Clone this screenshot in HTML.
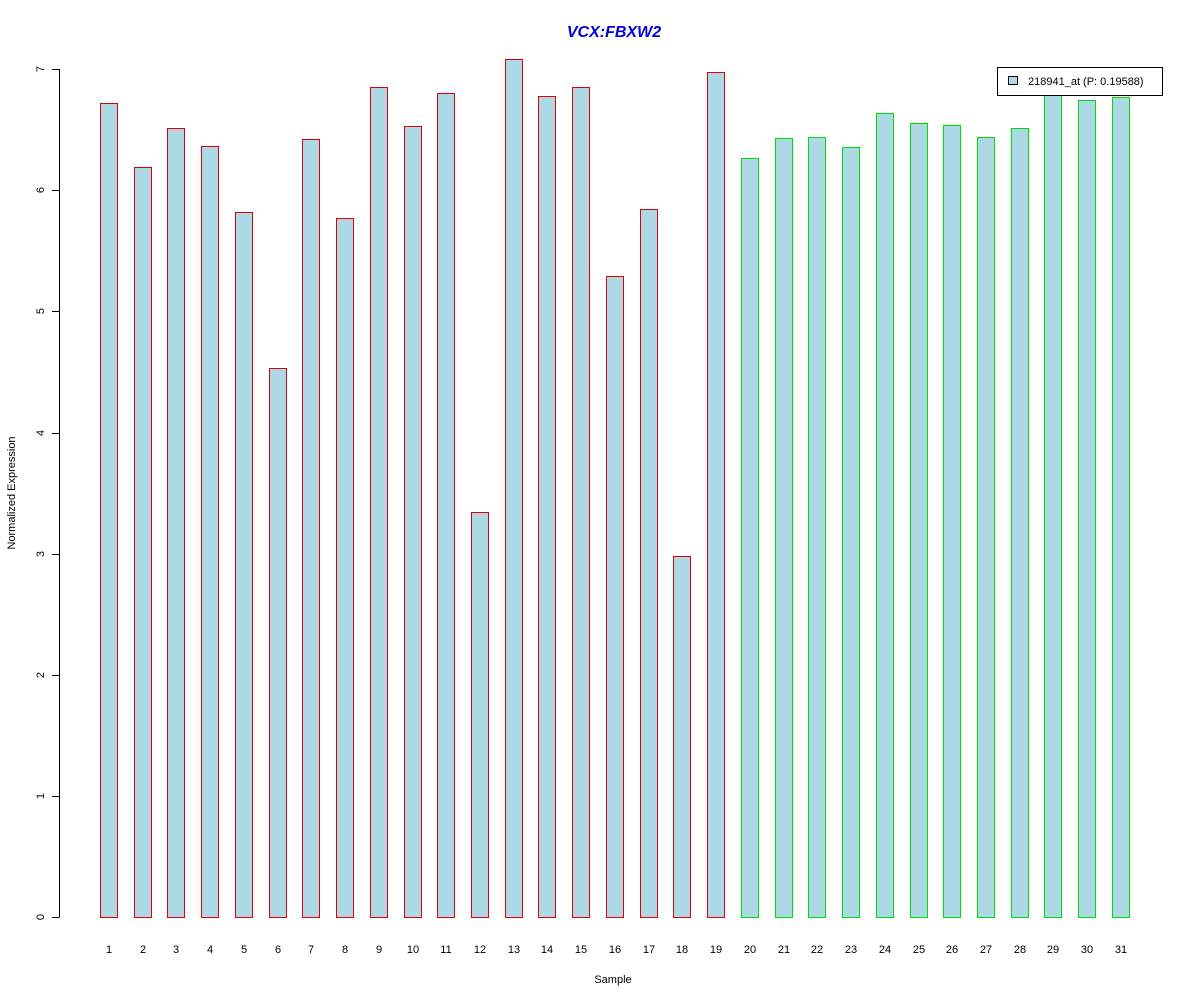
<!DOCTYPE html>
<html><head><meta charset="utf-8"><style>html,body{margin:0;padding:0;background:#fff}svg{display:block}</style></head>
<body>
<svg width="1200" height="1000" xmlns="http://www.w3.org/2000/svg" font-family="Liberation Sans, sans-serif">
<rect width="1200" height="1000" fill="#fff"/>
<text x="614" y="37" text-anchor="middle" font-size="16" font-weight="bold" font-style="italic" fill="#0000dd">VCX:FBXW2</text>
<g fill="#add8e6" stroke="#dd0000" stroke-width="1">
<rect x="100.5" y="103.5" width="17" height="814"/>
<rect x="134.5" y="167.5" width="17" height="750"/>
<rect x="167.5" y="128.5" width="17" height="789"/>
<rect x="201.5" y="146.5" width="17" height="771"/>
<rect x="235.5" y="212.5" width="17" height="705"/>
<rect x="269.5" y="368.5" width="17" height="549"/>
<rect x="302.5" y="139.5" width="17" height="778"/>
<rect x="336.5" y="218.5" width="17" height="699"/>
<rect x="370.5" y="87.5" width="17" height="830"/>
<rect x="404.5" y="126.5" width="17" height="791"/>
<rect x="437.5" y="93.5" width="17" height="824"/>
<rect x="471.5" y="512.5" width="17" height="405"/>
<rect x="505.5" y="59.5" width="17" height="858"/>
<rect x="538.5" y="96.5" width="17" height="821"/>
<rect x="572.5" y="87.5" width="17" height="830"/>
<rect x="606.5" y="276.5" width="17" height="641"/>
<rect x="640.5" y="209.5" width="17" height="708"/>
<rect x="673.5" y="556.5" width="17" height="361"/>
<rect x="707.5" y="72.5" width="17" height="845"/>
</g>
<g fill="#add8e6" stroke="#00dd00" stroke-width="1">
<rect x="741.5" y="158.5" width="17" height="759"/>
<rect x="775.5" y="138.5" width="17" height="779"/>
<rect x="808.5" y="137.5" width="17" height="780"/>
<rect x="842.5" y="147.5" width="17" height="770"/>
<rect x="876.5" y="113.5" width="17" height="804"/>
<rect x="910.5" y="123.5" width="17" height="794"/>
<rect x="943.5" y="125.5" width="17" height="792"/>
<rect x="977.5" y="137.5" width="17" height="780"/>
<rect x="1011.5" y="128.5" width="17" height="789"/>
<rect x="1044.5" y="92.5" width="17" height="825"/>
<rect x="1078.5" y="100.5" width="17" height="817"/>
<rect x="1112.5" y="97.5" width="17" height="820"/>
</g>
<g stroke="#000" stroke-width="1">
<line x1="59.5" y1="69" x2="59.5" y2="917"/>
<line x1="52" y1="917.5" x2="59.5" y2="917.5"/>
<line x1="52" y1="796.5" x2="59.5" y2="796.5"/>
<line x1="52" y1="675.5" x2="59.5" y2="675.5"/>
<line x1="52" y1="554.5" x2="59.5" y2="554.5"/>
<line x1="52" y1="433.5" x2="59.5" y2="433.5"/>
<line x1="52" y1="311.5" x2="59.5" y2="311.5"/>
<line x1="52" y1="190.5" x2="59.5" y2="190.5"/>
<line x1="52" y1="69.5" x2="59.5" y2="69.5"/>
</g>
<g font-size="11" fill="#000" text-anchor="middle">
<text transform="translate(44,917) rotate(-90)">0</text>
<text transform="translate(44,796) rotate(-90)">1</text>
<text transform="translate(44,675) rotate(-90)">2</text>
<text transform="translate(44,554) rotate(-90)">3</text>
<text transform="translate(44,433) rotate(-90)">4</text>
<text transform="translate(44,311) rotate(-90)">5</text>
<text transform="translate(44,190) rotate(-90)">6</text>
<text transform="translate(44,69) rotate(-90)">7</text>
<text transform="translate(15,493) rotate(-90)">Normalized Expression</text>
<text x="613" y="983">Sample</text>
<text x="109" y="953">1</text><text x="143" y="953">2</text><text x="176" y="953">3</text><text x="210" y="953">4</text>
<text x="244" y="953">5</text><text x="278" y="953">6</text><text x="311" y="953">7</text><text x="345" y="953">8</text>
<text x="379" y="953">9</text><text x="413" y="953">10</text><text x="446" y="953">11</text><text x="480" y="953">12</text>
<text x="514" y="953">13</text><text x="547" y="953">14</text><text x="581" y="953">15</text><text x="615" y="953">16</text>
<text x="649" y="953">17</text><text x="682" y="953">18</text><text x="716" y="953">19</text><text x="750" y="953">20</text>
<text x="784" y="953">21</text><text x="817" y="953">22</text><text x="851" y="953">23</text><text x="885" y="953">24</text>
<text x="919" y="953">25</text><text x="952" y="953">26</text><text x="986" y="953">27</text><text x="1020" y="953">28</text>
<text x="1053" y="953">29</text><text x="1087" y="953">30</text><text x="1121" y="953">31</text>
</g>
<rect x="997.5" y="67.5" width="165" height="28" fill="#fff" stroke="#000"/>
<rect x="1008.5" y="76.5" width="9" height="8" fill="#add8e6" stroke="#000"/>
<text x="1028" y="85" font-size="11" fill="#000">218941_at (P: 0.19588)</text>
</svg>
</body></html>
